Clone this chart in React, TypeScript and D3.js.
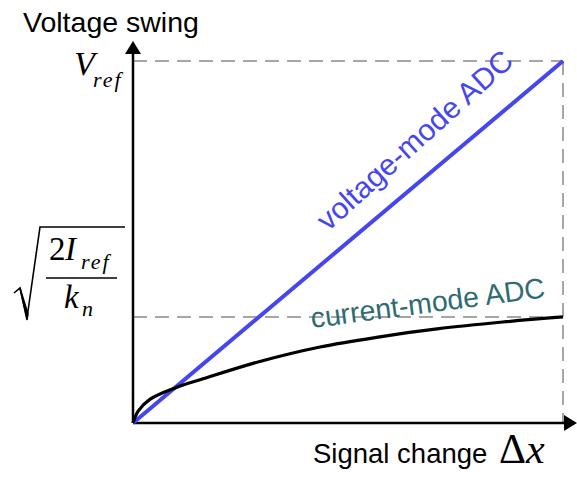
import React from "react";
import * as d3 from "d3";

// Normalised signal change (x) and voltage swing (y, fraction of Vref)
const signalChange = [0, 0.012, 0.04, 0.098, 0.163, 0.295, 0.435, 0.574, 0.707, 0.86, 1];
const currentModeSwing = [0, 0.033, 0.066, 0.097, 0.122, 0.17, 0.21, 0.238, 0.26, 0.279, 0.293];
const voltageModeX = [0, 1];
const voltageModeSwing = [0, 1];
const sqrtLevel = 0.293;
const vrefLevel = 1;

const W = 577;
const H = 483;

export default function App() {
  const x = d3.scaleLinear().domain([0, 1]).range([133, 563]);
  const y = d3.scaleLinear().domain([0, 1]).range([423, 61]);

  const line = d3
    .line<[number, number]>()
    .x((d) => x(d[0]))
    .y((d) => y(d[1]))
    .curve(d3.curveCatmullRom.alpha(0.5));

  const curPts: [number, number][] = signalChange.map((v, i) => [v, currentModeSwing[i]]);
  const volPts: [number, number][] = voltageModeX.map((v, i) => [v, voltageModeSwing[i]]);

  const sans = "'Liberation Sans', Arial, sans-serif";
  const serif = "'Liberation Serif', 'DejaVu Serif', serif";
  const dashColor = "#a6a6a6";
  const blue = "#4646ee";
  const teal = "#2f6b73";

  const x0 = x(0);
  const y0 = y(0);

  return (
    <svg
      width={W}
      height={H}
      style={{ position: "absolute", left: 0, top: 0, background: "#fff" }}
    >
      {/* dashed guides */}
      <line x1={x0} x2={x(1)} y1={y(vrefLevel)} y2={y(vrefLevel)} stroke={dashColor} strokeWidth={2} strokeDasharray="14 8" />
      <line x1={x0} x2={x(1)} y1={y(sqrtLevel)} y2={y(sqrtLevel)} stroke={dashColor} strokeWidth={2} strokeDasharray="14 8" />
      <line x1={x(1)} x2={x(1)} y1={y(vrefLevel)} y2={y0} stroke={dashColor} strokeWidth={2} strokeDasharray="14 8" />

      {/* axes */}
      <line x1={x0} x2={x0} y1={y0} y2={52} stroke="#000" strokeWidth={2.5} />
      <path d={`M${x0},41 L${x0 - 8},54 L${x0 + 8},54 Z`} fill="#000" />
      <line x1={x0} x2={566} y1={y0} y2={y0} stroke="#000" strokeWidth={2.5} />
      <path d={`M577,${y0} L564,${y0 - 8} L564,${y0 + 8} Z`} fill="#000" />

      {/* curves */}
      <path d={line(volPts) || ""} fill="none" stroke={blue} strokeWidth={4} />
      <path d={line(curPts) || ""} fill="none" stroke="#000" strokeWidth={3.2} />

      {/* labels */}
      <text x={23} y={32} fontFamily={sans} fontSize={28.5} fill="#000">
        Voltage swing
      </text>
      <text x={313} y={463} fontFamily={sans} fontSize={27.5} fill="#000">
        Signal change
      </text>
      <text x={499} y={463} fontFamily={serif} fontSize={42} fill="#000">
        Δ
        <tspan fontStyle="italic">x</tspan>
      </text>

      {/* V_ref */}
      <text x={74} y={75} fontFamily={serif} fontStyle="italic" fontSize={34} fill="#000">
        V
      </text>
      <text x={93} y={87} fontFamily={serif} fontStyle="italic" fontSize={22} letterSpacing={2} fill="#000">
        ref
      </text>

      {/* sqrt(2 I_ref / k_n) */}
      <path
        d="M14,293 L20,288 L27,318 L40,227 L125,227"
        fill="none"
        stroke="#000"
        strokeWidth={1.6}
        strokeLinejoin="miter"
      />
      <path d="M20,288 L27,320 L28,314 Z" fill="#000" stroke="#000" strokeWidth={1.5} />
      <text x={49} y={260} fontFamily={serif} fontSize={33} fill="#000">
        2
      </text>
      <text x={65} y={260} fontFamily={serif} fontStyle="italic" fontSize={33} fill="#000">
        I
      </text>
      <text x={81} y={269} fontFamily={serif} fontStyle="italic" fontSize={22} letterSpacing={2} fill="#000">
        ref
      </text>
      <line x1={46} x2={117} y1={278} y2={278} stroke="#000" strokeWidth={1.6} />
      <text x={64} y={308} fontFamily={serif} fontStyle="italic" fontSize={33} fill="#000">
        k
      </text>
      <text x={82} y={316} fontFamily={serif} fontStyle="italic" fontSize={22} fill="#000">
        n
      </text>

      {/* rotated series labels */}
      <text
        transform={`translate(328,232) rotate(-42)`}
        fontFamily={sans}
        fontSize={30}
        fill={blue}
      >
        voltage-mode ADC
      </text>
      <text
        transform={`translate(312,328) rotate(-7.5)`}
        fontFamily={sans}
        fontSize={28.5}
        fill={teal}
      >
        current-mode ADC
      </text>
    </svg>
  );
}
